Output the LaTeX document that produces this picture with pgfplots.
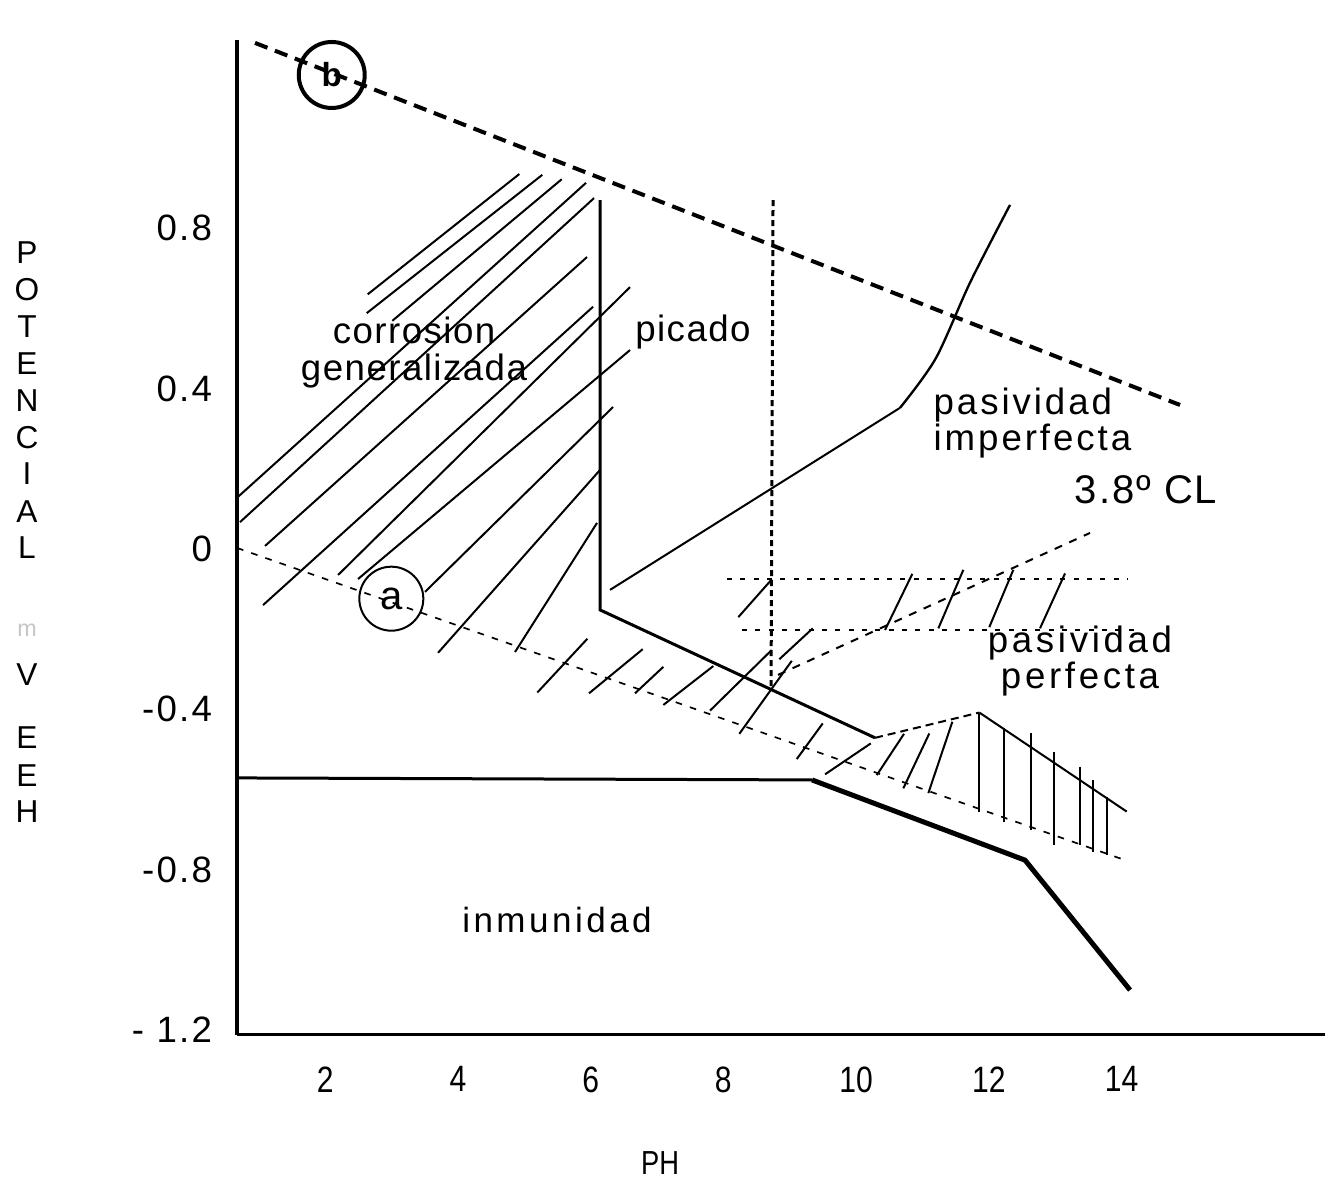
\documentclass[border=0pt]{standalone}
\usepackage{fontspec}
\setmainfont{Liberation Sans}
\newfontfamily\narrowfont[FakeStretch=0.82]{Liberation Sans}
\usepackage{pgfplots}
\pgfplotsset{compat=1.18}

\newcommand{\spc}[1]{\addfontfeatures{LetterSpace=#1}}

\begin{document}
\begin{tikzpicture}
\begin{axis}[
  scale only axis, width=326.5pt, height=298.5pt,
  xmin=0.672, xmax=17.07, ymin=-1.212, ymax=1.269,
  axis lines=left, axis line style={-},
  x axis line style={line width=0.9pt},
  y axis line style={line width=1.4pt},
  xtick={2,4,6,8,10,12,14}, xticklabels={2,4,6,8,10,12,14},
  ytick={-1.2,-0.8,-0.4,0,0.4,0.8},
  yticklabels={- 1.2,-0.8,-0.4,0,0.4,0.8},
  major tick length=0pt,
  xticklabel style={font=\narrowfont\fontsize{11}{12}\selectfont, yshift=-6pt},
  yticklabel style={font=\fontsize{11}{12}\selectfont\spc{6}, xshift=-4pt},
  clip=false,
  unbounded coords=jump,
]
% frame of the scanned page
\path (axis cs:-2.900,-1.581) rectangle (axis cs:17.142,1.369);

% line b (oxygen) and line a (hydrogen)
\addplot[black, line width=1.2pt, dash pattern=on 4pt off 2.4pt] coordinates {(0.943,1.262)(14.882,0.359)};
\addplot[black, line width=0.5pt, dash pattern=on 2pt off 2.5pt] coordinates {(0.672,0.0025)(14.053,-0.776)};

% picado boundary
\addplot[black, line width=0.9pt] coordinates {(6.142,0.870)(6.142,-0.152)(10.286,-0.471)};
\addplot[black, line width=0.6pt, dash pattern=on 2.4pt off 1.5pt] coordinates {(10.286,-0.471)(11.858,-0.408)};
\addplot[black, line width=0.6pt] coordinates {(11.858,-0.408)(14.079,-0.655)};

% inmunidad
\addplot[black, line width=0.9pt] coordinates {(0.672,-0.571)(9.337,-0.576)};
\addplot[black, line width=1.5pt] coordinates {(9.337,-0.576)(12.546,-0.776)(14.129,-1.100)};

% pasividad imperfecta boundary
\addplot[black, line width=0.6pt] coordinates {(6.293,-0.102)(10.663,0.352)};
\addplot[black, line width=0.7pt, smooth, tension=0.5] coordinates {(10.663,0.352)(11.20,0.475)(11.72,0.665)(12.32,0.858)};

% dashed vertical and dotted horizontals
\addplot[black, line width=0.9pt, dash pattern=on 1.8pt off 1.2pt] coordinates {(8.749,0.870)(8.719,-0.352)};
\addplot[black, line width=0.5pt, dash pattern=on 1.5pt off 2.5pt] coordinates {(8.056,-0.075)(14.098,-0.075)};
\addplot[black, line width=0.5pt, dash pattern=on 1.5pt off 2.5pt] coordinates {(8.282,-0.202)(14.200,-0.202)};
% 3.8 CL line
\addplot[black, line width=0.6pt, dash pattern=on 2.4pt off 2.4pt] coordinates {(8.824,-0.314)(13.526,0.040)};

% hatching, corrosion generalizada
\addplot[black, line width=0.6pt] coordinates {
(2.641,0.635)(4.926,0.935) (0,nan)
(2.626,0.588)(5.272,0.933) (0,nan)
(3.012,0.569)(5.565,0.922) (0,nan)
(0.687,0.130)(5.931,0.913) (0,nan)
(0.717,0.067)(6.052,0.875) (0,nan)
(1.094,0.0075)(5.946,0.728) (0,nan)
(1.064,-0.140)(6.037,0.604) (0,nan)
(2.194,-0.065)(6.594,0.653) (0,nan)
(2.495,-0.075)(6.594,0.496) (0,nan)
(3.505,-0.107)(6.338,0.354) (0,nan)
(3.701,-0.259)(6.142,0.197) (0,nan)
(4.861,-0.257)(6.097,0.065)
};
% hatching, lower band
\addplot[black, line width=0.6pt] coordinates {
(5.197,-0.358)(5.951,-0.224) (0,nan)
(5.976,-0.360)(6.785,-0.250) (0,nan)
(6.669,-0.360)(7.096,-0.294) (0,nan)
(7.096,-0.389)(7.849,-0.292) (0,nan)
(7.800,-0.403)(8.729,-0.252) (0,nan)
(8.241,-0.461)(9.031,-0.279) (0,nan)
(8.844,-0.275)(9.347,-0.198) (0,nan)
(8.226,-0.170)(8.729,-0.076) (0,nan)
(9.106,-0.524)(9.498,-0.435) (0,nan)
(9.533,-0.562)(10.221,-0.485) (0,nan)
(10.312,-0.564)(10.723,-0.461) (0,nan)
(10.712,-0.597)(11.104,-0.460) (0,nan)
(11.089,-0.609)(11.451,-0.431)
};
% hatching, pasividad perfecta band
\addplot[black, line width=0.6pt] coordinates {
(10.437,-0.202)(10.848,-0.062) (0,nan)
(11.240,-0.198)(11.617,-0.052) (0,nan)
(12.008,-0.195)(12.370,-0.052) (0,nan)
(12.772,-0.198)(13.149,-0.061)
};
% vertical hatching
\addplot[black, line width=0.6pt] coordinates {
(11.858,-0.410)(11.858,-0.655) (0,nan)
(12.234,-0.447)(12.234,-0.680) (0,nan)
(12.637,-0.460)(12.637,-0.701) (0,nan)
(12.983,-0.507)(12.983,-0.738) (0,nan)
(13.375,-0.543)(13.375,-0.738) (0,nan)
(13.576,-0.576)(13.576,-0.755) (0,nan)
(13.778,-0.618)(13.778,-0.763)
};

% circled labels
\node[draw, circle, line width=1.2pt, minimum size=19.8pt, inner sep=0pt]
  at (axis cs:2.099,1.182) {\bfseries\fontsize{10}{11}\selectfont b};
\node[draw, circle, line width=0.6pt, minimum size=19.2pt, inner sep=0pt]
  at (axis cs:2.997,-0.124) {\fontsize{12}{13}\selectfont a};

% region names
\node[align=center, inner sep=0pt, font=\fontsize{11}{11.1}\selectfont\spc{4}]
  at (axis cs:3.339,0.491) {corrosion\\generalizada};
\node[inner sep=0pt, font=\fontsize{11}{12}\selectfont\spc{4}] at (axis cs:7.543,0.540) {picado};
\node[anchor=west, align=left, inner sep=0pt, font=\fontsize{11}{10.8}\selectfont\spc{8}]
  at (axis cs:11.160,0.314) {pasividad\\imperfecta};
\node[inner sep=0pt, font=\fontsize{12}{13}\selectfont\spc{5}] at (axis cs:14.370,0.147) {3.8º CL};
\node[align=center, inner sep=0pt, font=\fontsize{11}{10.8}\selectfont\spc{10}]
  at (axis cs:13.375,-0.279) {pasividad\\perfecta};
\node[inner sep=0pt, font=\fontsize{10.5}{12}\selectfont\spc{10}] at (axis cs:5.494,-0.925) {inmunidad};

% axis titles
\node[inner sep=0pt, font=\narrowfont\fontsize{10}{12}\selectfont] at (axis cs:7.046,-1.532) {PH};
\node[inner sep=0pt, font=\fontsize{9.5}{10}\selectfont] at (axis cs:-2.493,0.738) {P};
\node[inner sep=0pt, font=\fontsize{9.5}{10}\selectfont] at (axis cs:-2.493,0.646) {O};
\node[inner sep=0pt, font=\fontsize{9.5}{10}\selectfont] at (axis cs:-2.493,0.554) {T};
\node[inner sep=0pt, font=\fontsize{9.5}{10}\selectfont] at (axis cs:-2.493,0.461) {E};
\node[inner sep=0pt, font=\fontsize{9.5}{10}\selectfont] at (axis cs:-2.493,0.369) {N};
\node[inner sep=0pt, font=\fontsize{9.5}{10}\selectfont] at (axis cs:-2.493,0.277) {C};
\node[inner sep=0pt, font=\fontsize{9.5}{10}\selectfont] at (axis cs:-2.493,0.187) {I};
\node[inner sep=0pt, font=\fontsize{9.5}{10}\selectfont] at (axis cs:-2.493,0.092) {A};
\node[inner sep=0pt, font=\fontsize{9.5}{10}\selectfont] at (axis cs:-2.493,0.0025) {L};
\node[inner sep=0pt, text=gray!45, font=\fontsize{7}{8}\selectfont] at (axis cs:-2.493,-0.202) {m};
\node[inner sep=0pt, font=\fontsize{9.5}{10}\selectfont] at (axis cs:-2.493,-0.314) {V};
\node[inner sep=0pt, font=\fontsize{9.5}{10}\selectfont] at (axis cs:-2.493,-0.471) {E};
\node[inner sep=0pt, font=\fontsize{9.5}{10}\selectfont] at (axis cs:-2.493,-0.564) {E};
\node[inner sep=0pt, font=\fontsize{9.5}{10}\selectfont] at (axis cs:-2.493,-0.656) {H};
\end{axis}
\end{tikzpicture}
\end{document}
